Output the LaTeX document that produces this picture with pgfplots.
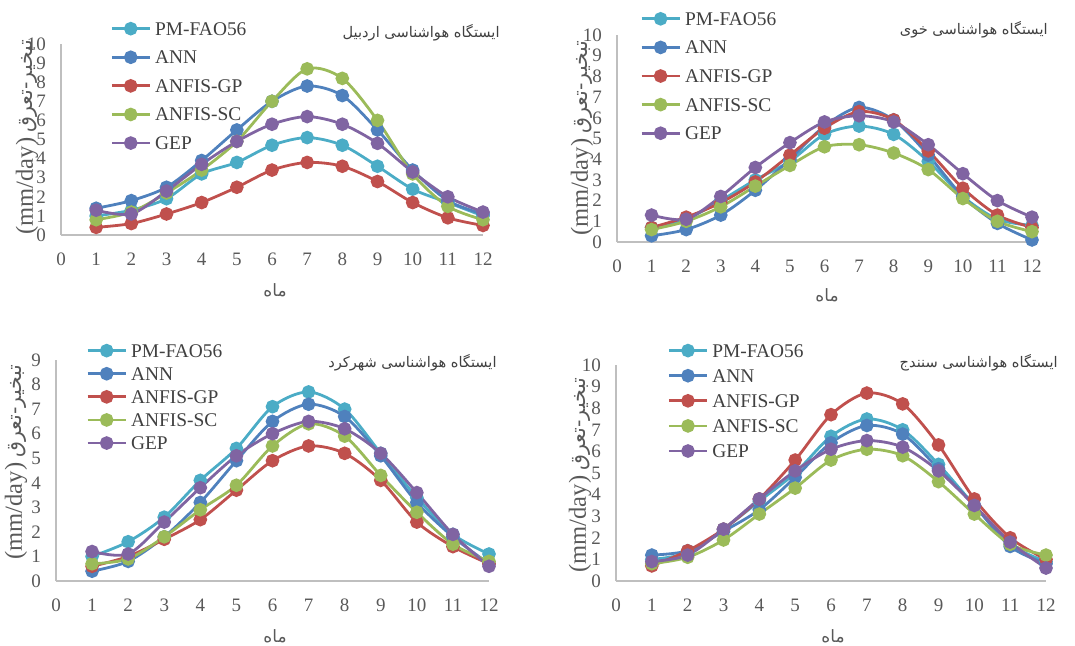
\documentclass[border=0pt]{standalone}
\usepackage{pgfplots}
\usepackage{pgfplotstable}
\pgfplotsset{compat=1.18}
\usepackage{fontspec}
\setmainfont{Liberation Serif}
\newfontfamily\arabicfont[Script=Arabic]{DejaVu Sans}
\TeXXeTstate=1
\definecolor{cPM}{HTML}{4BACC6}
\definecolor{cANN}{HTML}{4F81BD}
\definecolor{cGP}{HTML}{C0504D}
\definecolor{cSC}{HTML}{9BBB59}
\definecolor{cGEP}{HTML}{8064A2}
\definecolor{axisgray}{HTML}{BFBFBF}
\definecolor{tickgray}{HTML}{595959}
\definecolor{titlegray}{HTML}{404040}

\pgfplotstableread{
m pm ann gp sc gep
1 1.0 1.4 0.4 0.8 1.3
2 1.3 1.8 0.6 1.2 1.1
3 1.9 2.5 1.1 2.2 2.3
4 3.2 3.9 1.7 3.4 3.7
5 3.8 5.5 2.5 4.9 4.9
6 4.7 7.0 3.4 7.0 5.8
7 5.1 7.8 3.8 8.7 6.2
8 4.7 7.3 3.6 8.2 5.8
9 3.6 5.5 2.8 6.0 4.8
10 2.4 3.4 1.7 3.2 3.3
11 1.7 1.8 0.9 1.5 2.0
12 1.0 1.1 0.5 0.8 1.2
}\tabA
\pgfplotstableread{
m pm ann gp sc gep
1 0.7 0.3 0.7 0.6 1.3
2 1.1 0.6 1.2 1.0 1.1
3 2.0 1.3 1.9 1.7 2.2
4 3.0 2.5 2.9 2.7 3.6
5 3.9 4.0 4.2 3.7 4.8
6 5.2 5.6 5.5 4.6 5.8
7 5.6 6.5 6.3 4.7 6.1
8 5.2 5.9 5.9 4.3 5.8
9 3.9 4.2 4.4 3.5 4.7
10 2.2 2.2 2.6 2.1 3.3
11 1.1 0.9 1.3 1.0 2.0
12 0.8 0.1 0.7 0.5 1.2
}\tabB
\pgfplotstableread{
m pm ann gp sc gep
1 1.0 0.4 0.6 0.7 1.2
2 1.6 0.8 1.0 0.9 1.1
3 2.6 1.8 1.7 1.8 2.4
4 4.1 3.2 2.5 2.9 3.8
5 5.4 4.9 3.7 3.9 5.1
6 7.1 6.5 4.9 5.5 6.0
7 7.7 7.2 5.5 6.4 6.5
8 7.0 6.7 5.2 5.9 6.2
9 5.2 5.1 4.1 4.3 5.2
10 3.4 3.2 2.4 2.8 3.6
11 1.9 1.8 1.4 1.5 1.9
12 1.1 0.7 0.7 0.8 0.6
}\tabC
\pgfplotstableread{
m pm ann gp sc gep
1 1.0 1.2 0.7 0.8 0.9
2 1.3 1.4 1.4 1.1 1.2
3 2.4 2.3 2.4 1.9 2.4
4 3.7 3.3 3.8 3.1 3.8
5 5.0 4.8 5.6 4.3 5.1
6 6.7 6.4 7.7 5.6 6.1
7 7.5 7.2 8.7 6.1 6.5
8 7.0 6.8 8.2 5.8 6.2
9 5.4 5.2 6.3 4.6 5.1
10 3.5 3.5 3.8 3.1 3.5
11 1.7 1.6 2.0 1.7 1.8
12 0.9 0.8 1.0 1.2 0.6
}\tabD

\pgfplotsset{
  panel/.style={
    scale only axis, anchor=south west,
    xmin=0, xmax=12, ymin=0, xtick={0,...,12},
    axis x line*=bottom, axis y line*=left,
    axis line style={draw=axisgray, line width=0.8pt, -},
    major tick length=0pt,
    ticklabel style={font=\fontsize{9.5}{10}\selectfont, text=tickgray},
    /pgf/number format/assume math mode=true,
    xticklabel style={yshift=-5.5pt},
    yticklabel style={xshift=-4pt},
    clip=false,
    legend cell align=left,
    legend style={draw=none, fill=none, anchor=north west, inner sep=0pt,
      font=\fontsize{9.7}{10}\selectfont, text=titlegray,
      nodes={inner sep=0pt, text height=6.5pt, text depth=0pt},
      column sep=0pt},
    legend image code/.code={%
      \draw[#1, mark=none] (0pt,0pt) -- (19pt,0pt);
      \fill[#1] (9.5pt,0pt) circle[radius=2.7pt];
      \path (21pt,0pt);},
  },
  ser/.style={color=#1, mark=*, mark size=2.7pt, line width=1.4pt, smooth, tension=0.5, mark options={solid, fill=#1, draw=#1}},
}

\newcommand{\ylab}{{\fontsize{12.3}{13}\selectfont (mm/day)} {\arabicfont\fontsize{10.3}{12}\selectfont\beginR تبخیر-تعرق\endR}}
\newcommand{\xlab}{{\arabicfont\fontsize{8.5}{10}\selectfont\beginR ماه\endR}}

\begin{document}
\begin{tikzpicture}[x=1pt,y=1pt]
\path[use as bounding box] (0,0) rectangle (537.5,322.5);

% Panel 1: Ardabil
\begin{axis}[panel, at={(30.5pt,205pt)}, width=211pt, height=95.5pt, ymax=10, ytick={0,...,10},
  legend style={at={(axis description cs:0.116,1.118)}, row sep=7.5pt}]
\addplot[ser=cPM] table[x=m,y=pm]{\tabA};
\addplot[ser=cANN] table[x=m,y=ann]{\tabA};
\addplot[ser=cGP] table[x=m,y=gp]{\tabA};
\addplot[ser=cSC] table[x=m,y=sc]{\tabA};
\addplot[ser=cGEP] table[x=m,y=gep]{\tabA};
\legend{PM-FAO56,ANN,ANFIS-GP,ANFIS-SC,GEP}
\end{axis}

% Panel 2: Khoy
\begin{axis}[panel, at={(308.5pt,201.5pt)}, width=207.5pt, height=103.5pt, ymax=10, ytick={0,...,10},
  legend style={at={(axis description cs:0.055,1.113)}, row sep=7.5pt}]
\addplot[ser=cPM] table[x=m,y=pm]{\tabB};
\addplot[ser=cANN] table[x=m,y=ann]{\tabB};
\addplot[ser=cGP] table[x=m,y=gp]{\tabB};
\addplot[ser=cSC] table[x=m,y=sc]{\tabB};
\addplot[ser=cGEP] table[x=m,y=gep]{\tabB};
\legend{PM-FAO56,ANN,ANFIS-GP,ANFIS-SC,GEP}
\end{axis}

% Panel 3: Shahrekord
\begin{axis}[panel, at={(28pt,32pt)}, width=216.5pt, height=110.5pt, ymax=9, ytick={0,...,9},
  legend style={at={(axis description cs:0.069,1.075)}, row sep=4.75pt}]
\addplot[ser=cPM] table[x=m,y=pm]{\tabC};
\addplot[ser=cANN] table[x=m,y=ann]{\tabC};
\addplot[ser=cGP] table[x=m,y=gp]{\tabC};
\addplot[ser=cSC] table[x=m,y=sc]{\tabC};
\addplot[ser=cGEP] table[x=m,y=gep]{\tabC};
\legend{PM-FAO56,ANN,ANFIS-GP,ANFIS-SC,GEP}
\end{axis}

% Panel 4: Sanandaj
\begin{axis}[panel, at={(308pt,32pt)}, width=215pt, height=108pt, ymax=10, ytick={0,...,10},
  legend style={at={(axis description cs:0.119,1.1)}, row sep=5.75pt}]
\addplot[ser=cPM] table[x=m,y=pm]{\tabD};
\addplot[ser=cANN] table[x=m,y=ann]{\tabD};
\addplot[ser=cGP] table[x=m,y=gp]{\tabD};
\addplot[ser=cSC] table[x=m,y=sc]{\tabD};
\addplot[ser=cGEP] table[x=m,y=gep]{\tabD};
\legend{PM-FAO56,ANN,ANFIS-GP,ANFIS-SC,GEP}
\end{axis}

% titles
\node[anchor=east, text=titlegray, inner sep=0pt] at (250,306) {\arabicfont\fontsize{7.3}{9}\selectfont\beginR ایستگاه هواشناسی اردبیل\endR};
\node[anchor=east, text=titlegray, inner sep=0pt] at (524,307.5) {\arabicfont\fontsize{7.3}{9}\selectfont\beginR ایستگاه هواشناسی خوی\endR};
\node[anchor=east, text=titlegray, inner sep=0pt] at (248.5,141) {\arabicfont\fontsize{7.3}{9}\selectfont\beginR ایستگاه هواشناسی شهرکرد\endR};
\node[anchor=east, text=titlegray, inner sep=0pt] at (529,141) {\arabicfont\fontsize{7.3}{9}\selectfont\beginR ایستگاه هواشناسی سنندج\endR};

% x labels
\node[text=tickgray, inner sep=0pt] at (137.5,177.5) {\xlab};
\node[text=tickgray, inner sep=0pt] at (413.5,175) {\xlab};
\node[text=tickgray, inner sep=0pt] at (137.5,4.5) {\xlab};
\node[text=tickgray, inner sep=0pt] at (416.5,4.5) {\xlab};

% y labels
\node[rotate=90, text=tickgray, inner sep=0pt] at (13.5,254) {\ylab};
\node[rotate=90, text=tickgray, inner sep=0pt] at (291,253.5) {\ylab};
\node[rotate=90, text=tickgray, inner sep=0pt] at (8,91.5) {\ylab};
\node[rotate=90, text=tickgray, inner sep=0pt] at (290,85) {\ylab};
\end{tikzpicture}
\end{document}
